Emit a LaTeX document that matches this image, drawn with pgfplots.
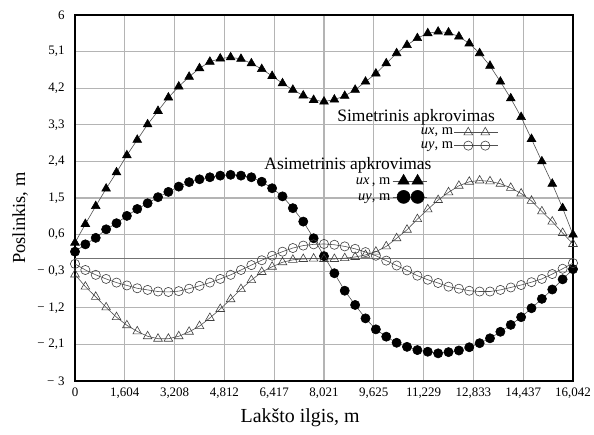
\documentclass[border=0pt]{standalone}
\usepackage{fontspec}
\setmainfont{Liberation Serif}
\usepackage{pgfplots}
\pgfplotsset{compat=1.18}
\usepackage{pgfplotstable}

% A: asym ux, B: asym uy, C: sym ux, D: sym uy
\pgfplotstableread{
x A B C D
0.000 0.40 0.18 -0.38 -0.12
0.334 0.86 0.36 -0.68 -0.27
0.668 1.30 0.52 -0.93 -0.39
1.003 1.73 0.73 -1.19 -0.49
1.337 2.13 0.88 -1.43 -0.58
1.671 2.55 1.06 -1.63 -0.65
2.005 2.93 1.23 -1.78 -0.72
2.339 3.31 1.37 -1.90 -0.76
2.674 3.64 1.52 -1.96 -0.80
3.008 3.97 1.65 -1.96 -0.81
3.342 4.24 1.78 -1.90 -0.79
3.676 4.48 1.89 -1.79 -0.73
4.011 4.69 1.96 -1.65 -0.66
4.345 4.85 2.01 -1.45 -0.58
4.679 4.93 2.05 -1.23 -0.49
5.013 4.96 2.07 -0.99 -0.39
5.347 4.92 2.05 -0.74 -0.27
5.682 4.81 2.01 -0.52 -0.15
6.016 4.67 1.90 -0.32 -0.03
6.350 4.50 1.74 -0.19 0.08
6.684 4.32 1.54 -0.08 0.18
7.018 4.16 1.25 -0.02 0.27
7.353 4.02 0.92 0.00 0.33
7.687 3.91 0.51 0.01 0.36
8.021 3.87 0.07 0.00 0.37
8.355 3.92 -0.35 0.00 0.35
8.689 4.01 -0.78 0.02 0.31
9.024 4.16 -1.13 0.05 0.25
9.358 4.36 -1.46 0.10 0.17
9.692 4.56 -1.73 0.18 0.08
10.026 4.81 -1.91 0.31 -0.04
10.360 5.06 -2.06 0.51 -0.16
10.695 5.26 -2.16 0.72 -0.28
11.029 5.43 -2.24 0.98 -0.41
11.363 5.55 -2.28 1.22 -0.51
11.697 5.59 -2.32 1.45 -0.59
12.032 5.57 -2.29 1.64 -0.68
12.366 5.47 -2.25 1.80 -0.73
12.700 5.30 -2.17 1.90 -0.78
13.034 5.06 -2.07 1.93 -0.80
13.368 4.75 -1.95 1.91 -0.80
13.703 4.36 -1.79 1.85 -0.76
14.037 3.95 -1.62 1.75 -0.70
14.371 3.49 -1.43 1.61 -0.64
14.705 2.95 -1.21 1.43 -0.57
15.039 2.40 -0.98 1.17 -0.49
15.374 1.85 -0.75 0.92 -0.37
15.708 1.25 -0.50 0.64 -0.24
16.042 0.60 -0.25 0.37 -0.10
}\data

\definecolor{linegray}{HTML}{505050}
\definecolor{gridgray}{HTML}{B4B4B4}
\newcommand{\mn}{−\hspace{3.5bp}}

\begin{document}
\begin{tikzpicture}
\useasboundingbox (-75bp,-54bp) rectangle (519bp,381bp);
\begin{axis}[
  at={(0,0)}, anchor=south west,
  scale only axis, width=498bp, height=366bp,
  xmin=0, xmax=16.042, ymin=-3, ymax=6,
  xtick={0,1.6042,3.2084,4.8126,6.4168,8.021,9.6252,11.2294,12.8336,14.4378,16.042},
  xticklabels={0,{1,604},{3,208},{4,812},{6,417},{8,021},{9,625},{11,229},{12,833},{14,437},{16,042}},
  ytick={-3,-2.1,-1.2,-0.3,0.6,1.5,2.4,3.3,4.2,5.1,6},
  yticklabels={{\mn3},{\mn2,1},{\mn1,2},{\mn0,3},{0,6},{1,5},{2,4},{3,3},{4,2},{5,1},{6}},
  major tick length=0pt,
  grid=major, grid style={gridgray, line width=1.1bp},
  extra y ticks={0}, extra y tick labels={},
  extra y tick style={grid style={black!55, line width=1bp}},
  axis line style={black, line width=1.5bp},
  tick label style={font=\fontsize{13}{15}\selectfont},
  yticklabel style={xshift=-7bp},
  xticklabel style={yshift=-3bp},
  xlabel={Lakšto ilgis, m}, ylabel={Poslinkis, m},
  every axis x label/.style={at={(axis description cs:0.452,-0.1)}, anchor=center, font=\fontsize{20}{22}\selectfont},
  every axis y label/.style={at={(axis description cs:-0.11,0.445)}, rotate=90, anchor=center, font=\fontsize{18.5}{20}\selectfont},
  legend image code/.code={\draw[mark indices={2,3},#1] plot coordinates {(0bp,0bp) (14bp,0bp) (31bp,0bp) (44bp,0bp)};},
  legend style={at={(axis description cs:0.851,0.695)}, anchor=north east, draw=none, fill=none,
    inner sep=0pt, row sep=2.3bp, column sep=1bp,
    nodes={inner sep=0pt, text height=8bp, text depth=3bp},
    font=\fontsize{14.5}{16}\selectfont},
  legend plot pos=right, legend cell align=right,
]
\addplot[linegray, line width=0.6bp, mark=triangle*, mark size=5bp, mark options={solid, fill=black, draw=black}, forget plot] table[x=x, y=A] {\data};
\addplot[linegray, line width=0.6bp, mark=*, mark size=4.6bp, mark options={solid, fill=black, draw=black}, forget plot] table[x=x, y=B] {\data};
\addplot[linegray, line width=0.6bp, mark=triangle, mark size=5bp, mark options={solid, draw=black!75, line width=0.6bp}] table[x=x, y=C] {\data};
\addlegendentry{\textit{ux}, m}
\addplot[linegray, line width=0.6bp, mark=o, mark size=4.6bp, mark options={solid, draw=black!75, line width=0.6bp}] table[x=x, y=D] {\data};
\addlegendentry{\textit{uy}, m}
\node[anchor=base east, font=\fontsize{17.5}{19}\selectfont, inner sep=0pt] at (axis cs:13.53,3.39) {Simetrinis apkrovimas};
\node[anchor=base east, font=\fontsize{17.5}{19}\selectfont, inner sep=0pt] at (axis cs:11.49,2.19) {Asimetrinis apkrovimas};
\end{axis}
\begin{axis}[
  at={(0,0)}, anchor=south west,
  scale only axis, width=498bp, height=366bp,
  xmin=0, xmax=16.042, ymin=-3, ymax=6,
  hide axis,
  legend image code/.code={\draw[mark indices={2,3},#1] plot coordinates {(0bp,0bp) (11bp,0bp) (25bp,0bp) (34bp,0bp)};},
  legend style={at={(axis description cs:0.707,0.565)}, anchor=north east, draw=none, fill=none,
    inner sep=0pt, row sep=3bp, column sep=2bp,
    nodes={inner sep=0pt, text height=10bp, text depth=3bp},
    font=\fontsize{14.5}{16}\selectfont},
  legend plot pos=right, legend cell align=right,
]
\addlegendimage{linegray, line width=0.6bp, mark=triangle*, mark size=6.5bp, mark options={solid, fill=black, draw=black}}
\addlegendentry{\textit{ux}\,, m}
\addlegendimage{linegray, line width=0.6bp, mark=*, mark size=6.5bp, mark options={solid, fill=black, draw=black}}
\addlegendentry{\textit{uy}, m}
\end{axis}
\end{tikzpicture}
\end{document}
